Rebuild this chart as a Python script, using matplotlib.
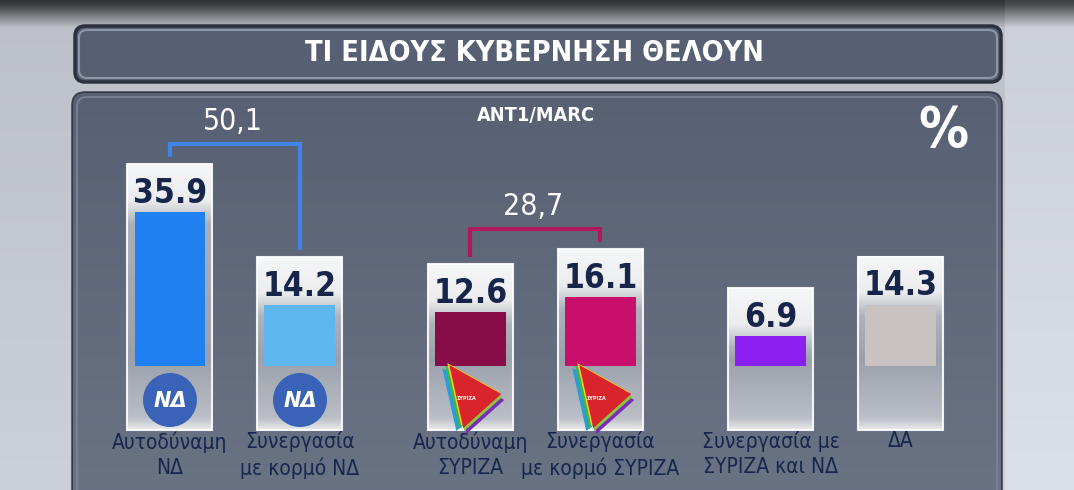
import numpy as np
import matplotlib
matplotlib.use("Agg")
import matplotlib.pyplot as plt
from matplotlib.patches import FancyBboxPatch, Rectangle, Ellipse, Polygon
from matplotlib import font_manager

# chart data
labels = ['Αυτοδύναμη\nΝΔ', 'Συνεργασία\nμε κορμό ΝΔ', 'Αυτοδύναμη\nΣΥΡΙΖΑ',
          'Συνεργασία\nμε κορμό ΣΥΡΙΖΑ', 'Συνεργασία με\nΣΥΡΙΖΑ και ΝΔ', 'ΔΑ']
values = [35.9, 14.2, 12.6, 16.1, 6.9, 14.3]
groups = [0, 0, 1, 1, 2, 2]
bar_colors = ['#1f80f2', '#5cb8ef', '#870c47', '#c80f6b', '#8b1ff2', '#c9c2c2']
logos = ['nd', 'nd', 'syriza', 'syriza', None, None]
pairs = [(0, 1, '#3f84e6'), (2, 3, '#b0175d')]
title = 'ΤΙ ΕΙΔΟΥΣ ΚΥΒΕΡΝΗΣΗ ΘΕΛΟΥΝ'
source = 'ANT1/MARC'

# layout (pixels)
W, H = 1074, 490
PX = 4.28      # px per percentage point
BASE = 366     # bar baseline, px from top
PITCH = 130    # px between bar centres
X0 = 170       # first bar centre
GAP = 0.31     # extra space between groups (in bar pitches)


def pick_font():
    fonts = font_manager.fontManager.ttflist
    if any(f.name == 'Liberation Sans Narrow' for f in fonts):
        return 'Liberation Sans Narrow', 'normal', 1.0
    if any(f.name == 'DejaVu Sans' and f.stretch == 'condensed' for f in fonts):
        return 'DejaVu Sans', 'condensed', 0.80
    return 'DejaVu Sans', 'normal', 0.72


FAMILY, STRETCH, K = pick_font()


def txt(ax, x, y, s, size, **kw):
    return ax.text(x, y, s, fontsize=size, family=FAMILY, stretch=STRETCH, **kw)


fig = plt.figure(figsize=(W / 100, H / 100), dpi=100)

# background in pixel coordinates
bg = fig.add_axes([0, 0, 1, 1])
bg.set_xlim(0, W)
bg.set_ylim(H, 0)
bg.axis('off')

rows = np.arange(H)
shade = np.interp(rows, [0, 6, 28, H], [0.18, 0.25, 0.74, 0.80])
img = shade[:, None, None] * np.array([1.0, 1.02, 1.06])[None, None, :] * np.ones((H, W, 1))
img[:, 1005:, :] += 0.06
img = np.clip(img, 0, 1)
bg.imshow(img, extent=(0, W, H, 0), aspect='auto', zorder=0)

banner = FancyBboxPatch((75, 26), 926, 56, boxstyle='round,pad=0,rounding_size=10',
                        fc='#566072', ec='#2c323d', lw=2.5, zorder=1)
bg.add_patch(banner)
bg.add_patch(FancyBboxPatch((79, 30), 918, 48, boxstyle='round,pad=0,rounding_size=8',
                            fc='none', ec='#8d96a6', lw=1.5, zorder=1))

panel = FancyBboxPatch((73, 93), 928, 440, boxstyle='round,pad=0,rounding_size=12',
                       fc='#5b6476', ec='#343a46', lw=2.5, zorder=1)
bg.add_patch(panel)
pg = np.interp(np.arange(400), [0, 400], [0.0, 1.0])[:, None]
c_top = np.array([0x58, 0x61, 0x73]) / 255
c_bot = np.array([0x6c, 0x75, 0x86]) / 255
pimg = (c_top[None, None, :] * (1 - pg[:, :, None]) + c_bot[None, None, :] * pg[:, :, None])
im = bg.imshow(pimg, extent=(73, 1001, 533, 93), aspect='auto', zorder=1.1)
im.set_clip_path(panel)
bg.add_patch(FancyBboxPatch((77, 97), 920, 440, boxstyle='round,pad=0,rounding_size=10',
                            fc='none', ec='#7d8698', lw=1.2, zorder=1.2))

txt(bg, 534, 53, title, 24 * K + 1.5, color='white', weight='bold', ha='center', va='center')
txt(bg, 536, 115, source, 14 * K + 3, color='white', weight='bold', ha='center', va='center')
txt(bg, 943, 131, '%', 50 * K, color='white', weight='bold', ha='center', va='center')

# bar chart axes, same size as figure
ax = fig.add_axes([0, 0, 1, 1])
ax.patch.set_alpha(0)
ax.axis('off')
xlim = ((0 - X0) / PITCH, (W - X0) / PITCH)
ylim = ((BASE - H) / PX, BASE / PX)

xs = np.arange(len(values)) + GAP * np.array(groups)
frame_w = 85 / PITCH
fill_w = 71 / PITCH
top_pad = 48 / PX
bot_pad = 64 / PX


def py(ypx):
    return (BASE - ypx) / PX


for x, v, c, lab, logo in zip(xs, values, bar_colors, labels, logos):
    top = v + top_pad
    h_px = (top + bot_pad) * PX
    d = np.linspace(0, h_px, 200)
    alpha = np.interp(d, [0, 36, 60, h_px - 70, h_px - 12, h_px], [0.95, 0.88, 0.48, 0.36, 0.55, 0.85])
    rgba = np.ones((200, 1, 4))
    rgba[:, 0, 3] = alpha
    ax.imshow(rgba, extent=(x - frame_w / 2, x + frame_w / 2, -bot_pad, top),
              aspect='auto', zorder=2, interpolation='bilinear')
    ax.add_patch(Rectangle((x - frame_w / 2, -bot_pad), frame_w, top + bot_pad,
                           fc='none', ec='white', lw=1.5, alpha=0.9, zorder=2.5))
    ax.bar(x, v, width=fill_w, color=c, zorder=3)
    txt(ax, x, v + 4.4, f'{v:.1f}', 30 * K, color='#17254a', weight='bold',
        ha='center', va='center', zorder=4)
    txt(ax, x, -bot_pad - 0.3, lab, 18 * K + 0.6, color='#17264c', ha='center', va='top',
        linespacing=1.3, zorder=4)

    if logo == 'nd':
        ax.add_patch(Ellipse((x, py(400)), 54 / PITCH, 54 / PX, fc='#3a62b6', zorder=4))
        ax.text(x, py(401), 'ΝΔ', fontsize=15, color='white', weight='bold', style='italic',
                ha='center', va='center', zorder=5)
    elif logo == 'syriza':
        tri = np.array([[-21, 365], [31, 394], [-7, 428]], dtype=float)
        layers = [((3, 6), '#7a2bb8'), ((1, 3), '#8cc63f'), ((-7, 3), '#2d9bd6'),
                  ((-4, 1), '#3fb34f'), ((-2, -2), '#f5d21f')]
        for (ox, oy), col in layers:
            pts = [(x + (px + ox) / PITCH, py(ypx + oy)) for px, ypx in tri]
            ax.add_patch(Polygon(pts, closed=True, fc=col, ec='none', zorder=4))
        pts = [(x + px / PITCH, py(ypx)) for px, ypx in tri]
        ax.add_patch(Polygon(pts, closed=True, fc='#d9242b', ec='none', zorder=4.5))
        ax.text(x - 4 / PITCH, py(398), 'ΣΥΡΙΖΑ', fontsize=3.5, color='white', weight='bold',
                ha='center', va='center', zorder=5)

# brackets joining the two bars of each party
for i, j, col in pairs:
    total = values[i] + values[j]
    t_i = values[i] + top_pad + 7 / PX
    t_j = values[j] + top_pad + 7 / PX
    yh = max(values[i], values[j]) + top_pad + 20 / PX
    ax.plot([xs[i], xs[i], xs[j], xs[j]], [t_i, yh, yh, t_j], color=col, lw=3,
            solid_joinstyle='miter', solid_capstyle='butt', zorder=3)
    txt(ax, (xs[i] + xs[j]) / 2 - 2 / PITCH, yh + 23 / PX, f'{total:.1f}'.replace('.', ','), 27 * K,
        color='white', ha='center', va='center', zorder=4)

ax.set_xlim(*xlim)
ax.set_ylim(*ylim)

fig.savefig('out.png', dpi=100)
